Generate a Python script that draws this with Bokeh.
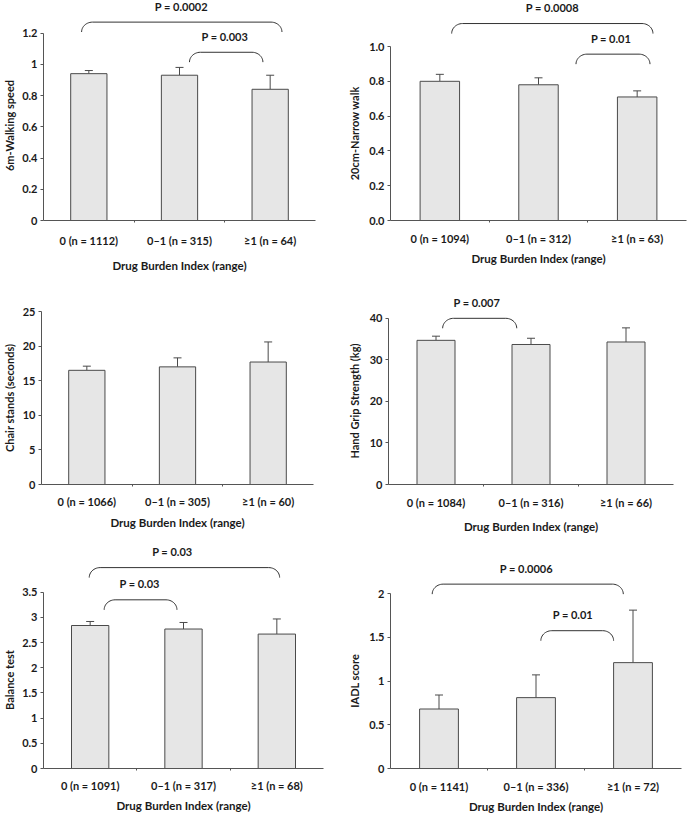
import subprocess
import numpy as np
from bokeh.plotting import figure
from bokeh.layouts import column, row
from bokeh.models import FixedTicker, Whisker, TeeHead, ColumnDataSource, Title
from bokeh.core.properties import value
from bokeh.embed import file_html
from bokeh.resources import INLINE

x_title = "Drug Burden Index (range)"
x_pos = [0.5, 1.5, 2.5]

# ---- data ----
walk_cats = ["0 (n = 1112)", "0–1 (n = 315)", "≥1 (n = 64)"]
walk_mean = [0.94, 0.93, 0.84]
walk_upper = [0.96, 0.98, 0.93]
walk_ticks = ["0", "0.2", "0.4", "0.6", "0.8", "1", "1.2"]
walk_brackets = [(0.42, 2.63, 1.27, 1.52, "P = 0.0002"), (1.61, 2.42, 1.077, 2.0, "P = 0.003")]

narrow_cats = ["0 (n = 1094)", "0–1 (n = 312)", "≥1 (n = 63)"]
narrow_mean = [0.80, 0.78, 0.71]
narrow_upper = [0.84, 0.82, 0.745]
narrow_ticks = ["0.0", "0.2", "0.4", "0.6", "0.8", "1.0"]
narrow_brackets = [(0.62, 2.66, 1.132, 1.64, "P = 0.0008"), (1.88, 2.63, 0.956, 2.235, "P = 0.01")]

chair_cats = ["0 (n = 1066)", "0–1 (n = 305)", "≥1 (n = 60)"]
chair_mean = [16.5, 17.0, 17.7]
chair_upper = [17.1, 18.3, 20.6]
chair_ticks = ["0", "5", "10", "15", "20", "25"]
chair_brackets = []

grip_cats = ["0 (n = 1084)", "0–1 (n = 316)", "≥1 (n = 66)"]
grip_mean = [34.7, 33.7, 34.3]
grip_upper = [35.7, 35.2, 37.7]
grip_ticks = ["0", "10", "20", "30", "40"]
grip_brackets = [(0.57, 1.35, 40.0, 0.93, "P = 0.007")]

balance_cats = ["0 (n = 1091)", "0–1 (n = 317)", "≥1 (n = 68)"]
balance_mean = [2.84, 2.77, 2.67]
balance_upper = [2.92, 2.90, 2.97]
balance_ticks = ["0", "0.5", "1", "1.5", "2", "2.5", "3", "3.5"]
balance_brackets = [(0.49, 2.53, 3.99, 1.38, "P = 0.03"), (0.65, 1.43, 3.35, 1.03, "P = 0.03")]

iadl_cats = ["0 (n = 1141)", "0–1 (n = 336)", "≥1 (n = 72)"]
iadl_mean = [0.68, 0.81, 1.21]
iadl_upper = [0.84, 1.07, 1.81]
iadl_ticks = ["0", "0.5", "1", "1.5", "2"]
iadl_brackets = [(0.43, 2.40, 2.107, 1.40, "P = 0.0006"), (1.55, 2.30, 1.575, 1.88, "P = 0.01")]

# ---- styling / layout (pixels) ----
FONT = "Lato"
TXT = "#1a1a1a"
AX = "#555555"
BAR_LINE = "#4a4a4a"
YLAB_SIZE = 11


def text_width(txt, size):
    try:
        from PIL import ImageFont
        path = subprocess.run(["fc-match", "-f", "%{file}", "Lato:bold"],
                              capture_output=True, text=True).stdout.strip()
        return ImageFont.truetype(path, size).getlength(txt)
    except Exception:
        return len(txt) * size * 0.5


def make(cats, mean, upper, ticks, brackets, ylabel, L):
    ymax = float(ticks[-1])
    fw = L["right"] - L["left"]
    ppu = (L["bottom"] - L["axis_top"]) / ymax
    ppx = fw / 3.0
    y_end = L["bottom"] / ppu
    p = figure(width=L["w"], height=L["h"], x_range=(0, 3), y_range=(0, y_end),
               output_backend="svg", toolbar_location=None,
               min_border_left=L["left"], min_border_right=L["w"] - L["right"],
               min_border_top=0, min_border_bottom=L["h"] - L["bottom"])
    p.outline_line_color = None
    p.xgrid.visible = False
    p.ygrid.visible = False

    p.vbar(x=x_pos, top=mean, bottom=0, width=0.4, fill_color="#e6e6e6",
           line_color=BAR_LINE, line_width=1)
    src = ColumnDataSource(dict(x=x_pos, lo=mean, hi=upper))
    p.add_layout(Whisker(base="x", lower="lo", upper="hi", source=src, dimension="height",
                         line_color=BAR_LINE, line_width=1,
                         upper_head=TeeHead(size=8, line_color=BAR_LINE, line_width=1),
                         lower_head=None))

    rx = 11 / ppx
    ry = 10 / ppu
    t1 = np.linspace(np.pi, np.pi / 2, 14)
    t2 = np.linspace(np.pi / 2, 0, 14)
    for xl, xr, yt, tx, lab in brackets:
        cy = yt - ry
        bx = list(xl + rx + rx * np.cos(t1)) + list(xr - rx + rx * np.cos(t2))
        by = list(cy + ry * np.sin(t1)) + list(cy + ry * np.sin(t2))
        p.line(bx, by, line_color="#333333", line_width=1)
        p.text(x=[tx], y=[yt + 16 / ppu], text=[lab], text_font=value(FONT),
               text_font_style="bold", text_font_size="11px", text_align="center",
               text_baseline="middle", text_color=TXT)

    # y-axis title centred on the axis (not on the whole frame)
    half_axis = (L["bottom"] - L["axis_top"]) / 2.0
    offset = half_axis - text_width(ylabel, YLAB_SIZE) / 2.0
    p.add_layout(Title(text=ylabel, align="left", offset=offset, standoff=L["t_so"],
                       vertical_align="top", text_font=FONT, text_font_style="bold",
                       text_font_size=f"{YLAB_SIZE}px", text_color=TXT), "left")

    xa = p.xaxis[0]
    xa.ticker = FixedTicker(ticks=x_pos, minor_ticks=[1, 2])
    xa.major_label_overrides = {x: c for x, c in zip(x_pos, cats)}
    xa.bounds = (0, 3)
    xa.major_tick_out = 0
    xa.major_tick_in = 0
    xa.minor_tick_out = 2
    xa.minor_tick_in = 0
    xa.minor_tick_line_color = AX
    xa.major_label_standoff = L["lab_so"]
    xa.axis_label = x_title
    xa.axis_label_standoff = L["title_so"]
    xa.axis_label_text_font = FONT
    xa.axis_label_text_font_style = "bold"
    xa.axis_label_text_font_size = "11.5px"
    xa.axis_label_text_color = TXT

    ya = p.yaxis[0]
    tv = [float(t) for t in ticks]
    ya.ticker = FixedTicker(ticks=tv, minor_ticks=[])
    ya.major_label_overrides = {v: t for v, t in zip(tv, ticks)}
    ya.bounds = (0, ymax)
    ya.major_tick_out = 3
    ya.major_tick_in = 0
    ya.minor_tick_out = 0
    ya.minor_tick_in = 0
    ya.major_label_standoff = 3
    ya.major_tick_line_color = AX

    for ax in (xa, ya):
        ax.axis_line_color = AX
        ax.major_label_text_font = FONT
        ax.major_label_text_font_style = "bold"
        ax.major_label_text_font_size = "11px"
        ax.major_label_text_color = TXT
    return p


L1 = dict(w=343, h=280, left=41, right=315, bottom=223, axis_top=33, lab_so=11, title_so=9, t_so=4)
L2 = dict(w=344, h=280, left=45, right=343, bottom=220, axis_top=46, lab_so=9, title_so=4, t_so=8)
L3 = dict(w=343, h=260, left=41, right=313, bottom=204, axis_top=31, lab_so=8, title_so=5, t_so=4)
L4 = dict(w=344, h=260, left=45, right=330, bottom=205, axis_top=38, lab_so=9, title_so=8, t_so=8)
L5 = dict(w=343, h=275, left=41, right=323, bottom=229, axis_top=52, lab_so=8, title_so=4, t_so=4)
L6 = dict(w=344, h=275, left=45, right=338, bottom=228, axis_top=53, lab_so=9, title_so=4, t_so=8)

p1 = make(walk_cats, walk_mean, walk_upper, walk_ticks, walk_brackets, "6m-Walking speed", L1)
p2 = make(narrow_cats, narrow_mean, narrow_upper, narrow_ticks, narrow_brackets, "20cm-Narrow walk", L2)
p3 = make(chair_cats, chair_mean, chair_upper, chair_ticks, chair_brackets, "Chair stands (seconds)", L3)
p4 = make(grip_cats, grip_mean, grip_upper, grip_ticks, grip_brackets, "Hand Grip Strength (kg)", L4)
p5 = make(balance_cats, balance_mean, balance_upper, balance_ticks, balance_brackets, "Balance test", L5)
p6 = make(iadl_cats, iadl_mean, iadl_upper, iadl_ticks, iadl_brackets, "IADL score", L6)

layout = column(row(p1, p2), row(p3, p4), row(p5, p6))

open("out.html", "w").write(file_html(layout, INLINE))
